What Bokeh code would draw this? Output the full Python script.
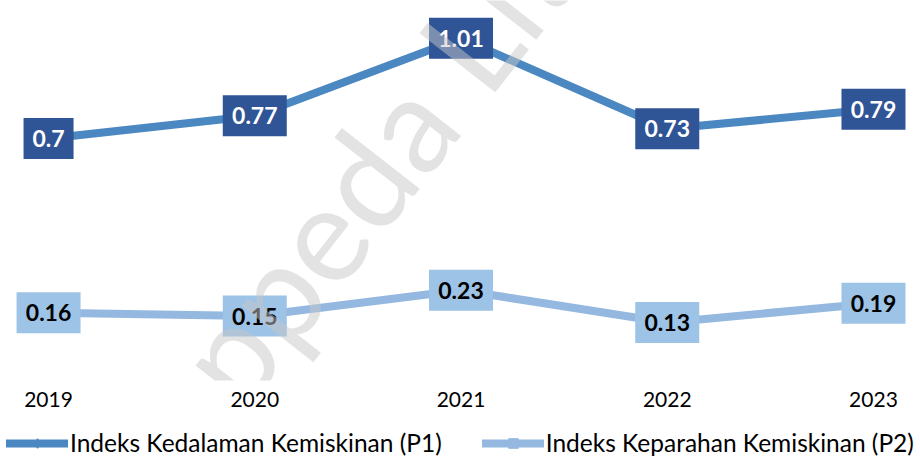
from bokeh.plotting import figure
from bokeh.layouts import column
from bokeh.models import Legend, LegendItem, FixedTicker, Label, ColumnDataSource
from bokeh.core.properties import value
from bokeh.embed import file_html
from bokeh.resources import INLINE

years = [2019, 2020, 2021, 2022, 2023]
p1 = [0.70, 0.77, 1.01, 0.73, 0.79]
p2 = [0.16, 0.15, 0.23, 0.13, 0.19]
p1_labels = ["0.7", "0.77", "1.01", "0.73", "0.79"]
p2_labels = ["0.16", "0.15", "0.23", "0.13", "0.19"]
series_names = ["Indeks Kedalaman Kemiskinan (P1)", "Indeks Keparahan Kemiskinan (P2)"]

FONT = "Lato"
C_P1_LINE = "#4B88C1"
C_P1_BOX = "#2F5597"
C_P2_LINE = "#94B8E0"
C_P2_BOX = "#9DC3E6"

X0, X1 = 2018.767, 2023.228
Y0, Y1 = -0.0495, 1.127
FH = 380

p = figure(width=920, height=412, frame_width=920, frame_height=FH,
           x_range=(X0, X1), y_range=(Y0, Y1),
           output_backend="svg", toolbar_location=None, min_border=0,
           min_border_left=0, min_border_right=0, min_border_top=0, min_border_bottom=0)
p.outline_line_color = None
p.grid.visible = False
p.yaxis.visible = False
p.xaxis.ticker = FixedTicker(ticks=years)
p.xaxis.axis_line_color = None
p.xaxis.major_tick_line_color = None
p.xaxis.minor_tick_line_color = None
p.xaxis.major_label_standoff = 5
p.xaxis.major_label_text_font = FONT
p.xaxis.major_label_text_font_size = "21px"
p.xaxis.major_label_text_color = "#000000"

def box_widths(labels):
    return [8 + 14 * len(s) for s in labels]

src1 = ColumnDataSource(dict(x=years, y=p1, t=p1_labels, w=box_widths(p1_labels)))
src2 = ColumnDataSource(dict(x=years, y=p2, t=p2_labels, w=box_widths(p2_labels)))

p.line("x", "y", source=src1, line_width=8, line_color=C_P1_LINE)
p.line("x", "y", source=src2, line_width=8, line_color=C_P2_LINE)

p.rect("x", "y", width="w", height=41, width_units="screen", height_units="screen",
       source=src1, fill_color=C_P1_BOX, line_color=None)
p.text("x", "y", text="t", source=src1, text_align="center", text_baseline="middle",
       text_font=value(FONT), text_font_style="bold", text_font_size="23px", text_color="white")
p.rect("x", "y", width="w", height=41, width_units="screen", height_units="screen",
       source=src2, fill_color=C_P2_BOX, line_color=None)
p.text("x", "y", text="t", source=src2, text_align="center", text_baseline="middle",
       text_font=value(FONT), text_font_style="bold", text_font_size="23px", text_color="black")

# watermark (decoration, placed in frame pixels)
def px_to_x(px):
    return X0 + px * (X1 - X0) / 920.0
def py_to_y(py):
    return Y1 - py * (Y1 - Y0) / FH

wm = Label(x=px_to_x(172), y=py_to_y(552), text="Bappeda Litbang", angle=52, angle_units="deg",
           text_font=FONT, text_font_style="normal", text_font_size="134px",
           text_color="#C8C8C8", text_alpha=0.5, level="overlay")
p.add_layout(wm)

# legend in its own strip below the chart
lg = figure(width=920, height=53, frame_width=920, frame_height=53,
            x_range=(0, 1), y_range=(0, 1), output_backend="svg", toolbar_location=None,
            min_border=0, min_border_left=0, min_border_right=0, min_border_top=0, min_border_bottom=0)
lg.axis.visible = False
lg.grid.visible = False
lg.outline_line_color = None
hidden = dict(x=[-5, -4], y=[-5, -5])
d1 = lg.line("x", "y", source=ColumnDataSource(hidden), line_width=8, line_color=C_P1_LINE, line_cap="round")
e1 = lg.scatter("x", "y", source=ColumnDataSource(hidden), marker="diamond", size=20,
                fill_color=C_P1_LINE, line_color=C_P1_LINE)
d2 = lg.line("x", "y", source=ColumnDataSource(hidden), line_width=8, line_color=C_P2_LINE, line_cap="round")
e2 = lg.scatter("x", "y", source=ColumnDataSource(hidden), marker="square", size=15,
                fill_color=C_P2_LINE, line_color=C_P2_LINE)

legend = Legend(items=[LegendItem(label=series_names[0], renderers=[d1, e1]),
                       LegendItem(label=series_names[1], renderers=[d2, e2])],
                orientation="horizontal", location=(6, 5),
                label_text_font=FONT, label_text_font_size="24.5px", label_text_color="#000000",
                glyph_width=62, glyph_height=24, label_standoff=2, spacing=40,
                padding=0, margin=0, border_line_color=None, background_fill_alpha=0)
lg.add_layout(legend)

open("out.html", "w").write(file_html(column(p, lg, spacing=0), INLINE))
